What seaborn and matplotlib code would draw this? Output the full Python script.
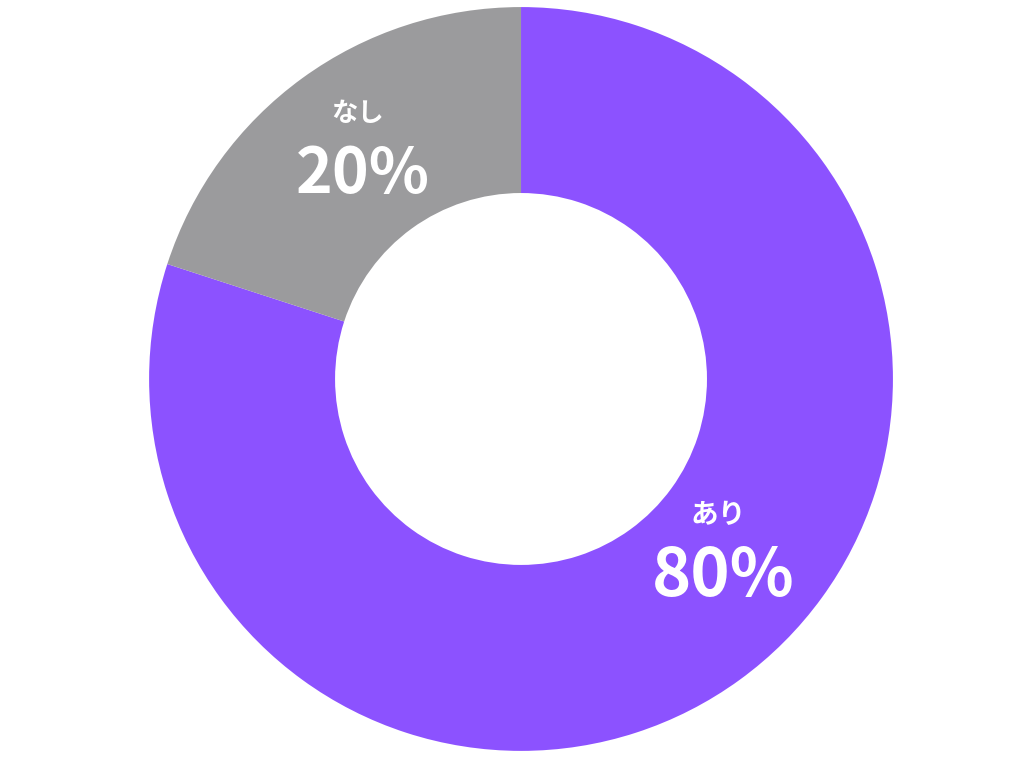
import matplotlib
matplotlib.use("Agg")
import matplotlib.pyplot as plt
import seaborn as sns

sns.set_style("white")
plt.rcParams['font.family'] = ['Noto Sans CJK JP', 'DejaVu Sans']

# data
labels = ["あり", "なし"]
values = [80, 20]
colors = ["#8C52FF", "#9B9B9D"]

# label anchors (x, y) in pie units, picked to match the reference
label_pos = [(0.545, -0.46), (-0.425, 0.62)]
pct_sizes = [48, 45]
name_sizes = [20, 19]

fig = plt.figure(figsize=(10.24, 7.68), dpi=100)
ax = fig.add_axes([0, 0, 1, 1])

ax.pie(values, colors=colors, startangle=90, counterclock=False,
       radius=1, wedgeprops=dict(width=0.5, edgecolor="none"))

for name, val, (x, y), ps, ns in zip(labels, values, label_pos, pct_sizes, name_sizes):
    ax.text(x - 0.015, y + 0.095, name, ha="center", va="center",
            color="white", fontsize=ns, fontweight="bold")
    ax.text(x, y - 0.07, f"{val}%", ha="center", va="center",
            color="white", fontsize=ps, fontweight="bold")

ax.set_xlim(-1.4005, 1.352)
ax.set_ylim(-1.046, 1.019)
ax.set_aspect("equal")
ax.axis("off")

fig.savefig("out.png", dpi=100, facecolor="white")
